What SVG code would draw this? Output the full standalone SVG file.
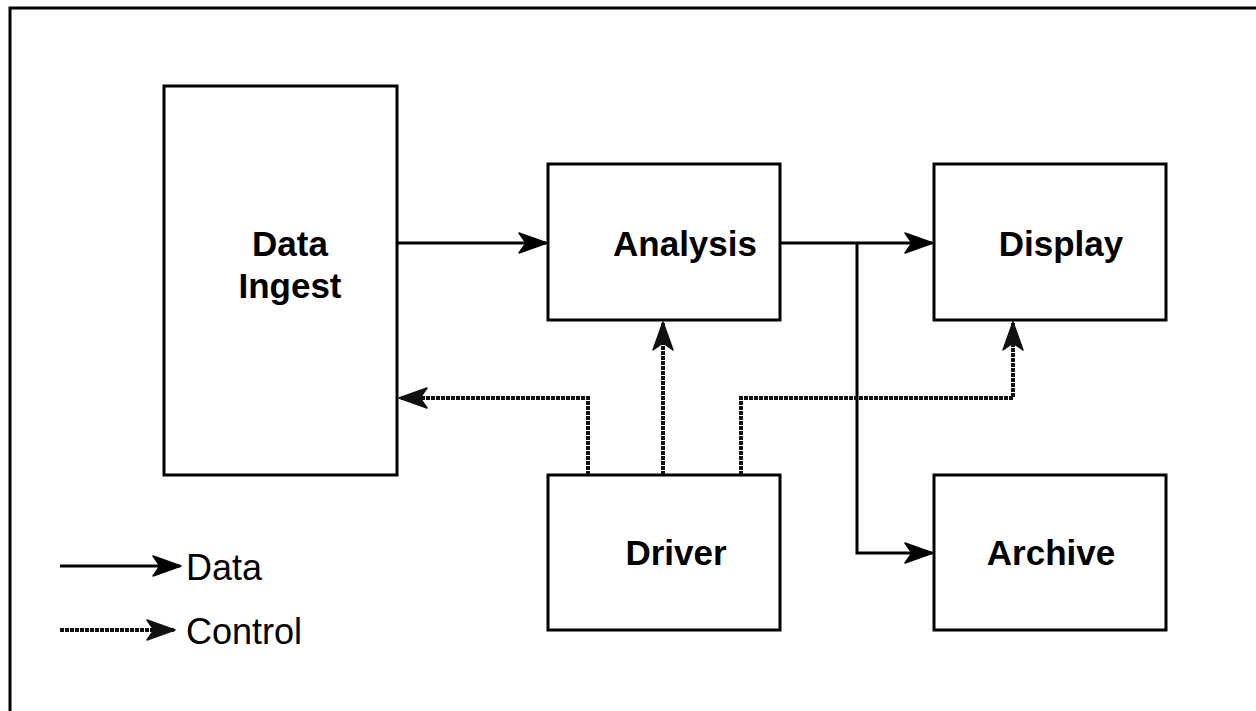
<svg xmlns="http://www.w3.org/2000/svg" width="1256" height="711" viewBox="0 0 1256 711">
<style>
.box{fill:#fff;stroke:#000;stroke-width:3}
.lbl{font-family:"Liberation Sans",Arial,sans-serif;font-weight:bold;font-size:35px;fill:#000;text-anchor:middle}
.leg{font-family:"Liberation Sans",Arial,sans-serif;font-size:36px;fill:#000}
.data{fill:none;stroke:#000;stroke-width:3}
.ctrl{fill:none;stroke:#111;stroke-width:4;stroke-dasharray:4 1}
</style>
<defs>
<marker id="ad" markerUnits="userSpaceOnUse" markerWidth="34" markerHeight="26" viewBox="-30 -13 34 26" refX="0" refY="0" orient="auto">
<path d="M1,0 L-27,-10 L-20,0 L-27,10 Z" fill="#000" stroke="#000" stroke-width="1.5" stroke-linejoin="round"/>
</marker>
<marker id="ac" markerUnits="userSpaceOnUse" markerWidth="34" markerHeight="26" viewBox="-30 -13 34 26" refX="0" refY="0" orient="auto">
<path d="M1,0 L-27,-10 L-20,0 L-27,10 Z" fill="#111" stroke="#111" stroke-width="1.5" stroke-linejoin="round"/>
</marker>
</defs>
<rect width="1256" height="711" fill="#fff"/>
<path d="M10,711 V8 H1256" fill="none" stroke="#000" stroke-width="3"/>
<g id="ingest"><rect class="box" x="164" y="86" width="233" height="389"/><text class="lbl" x="290" y="256">Data</text><text class="lbl" x="290" y="298">Ingest</text></g>
<g id="analysis"><rect class="box" x="548" y="164" width="232" height="156"/><text class="lbl" x="685" y="256">Analysis</text></g>
<g id="display"><rect class="box" x="934" y="164" width="232" height="156"/><text class="lbl" x="1061" y="256">Display</text></g>
<g id="driver"><rect class="box" x="548" y="475" width="232" height="155"/><text class="lbl" x="676" y="565">Driver</text></g>
<g id="archive"><rect class="box" x="934" y="475" width="232" height="155"/><text class="lbl" x="1051" y="565">Archive</text></g>
<g id="connectors">
<path class="data" d="M397,243 H546" marker-end="url(#ad)"/>
<path class="data" d="M780,243 H932" marker-end="url(#ad)"/>
<path class="data" d="M857,243 V553 H932" marker-end="url(#ad)"/>
<path class="ctrl" d="M588,475 V398 H400" marker-end="url(#ac)"/>
<path class="ctrl" d="M663,475 V323" marker-end="url(#ac)"/>
<path class="ctrl" d="M741,475 V398 H1013 V323" marker-end="url(#ac)"/>
</g>
<g id="legend">
<path class="data" d="M60,566 H180" marker-end="url(#ad)"/>
<text class="leg" x="186" y="580">Data</text>
<path class="ctrl" d="M60,630 H174" marker-end="url(#ac)"/>
<text class="leg" x="186" y="644">Control</text>
</g>
</svg>
